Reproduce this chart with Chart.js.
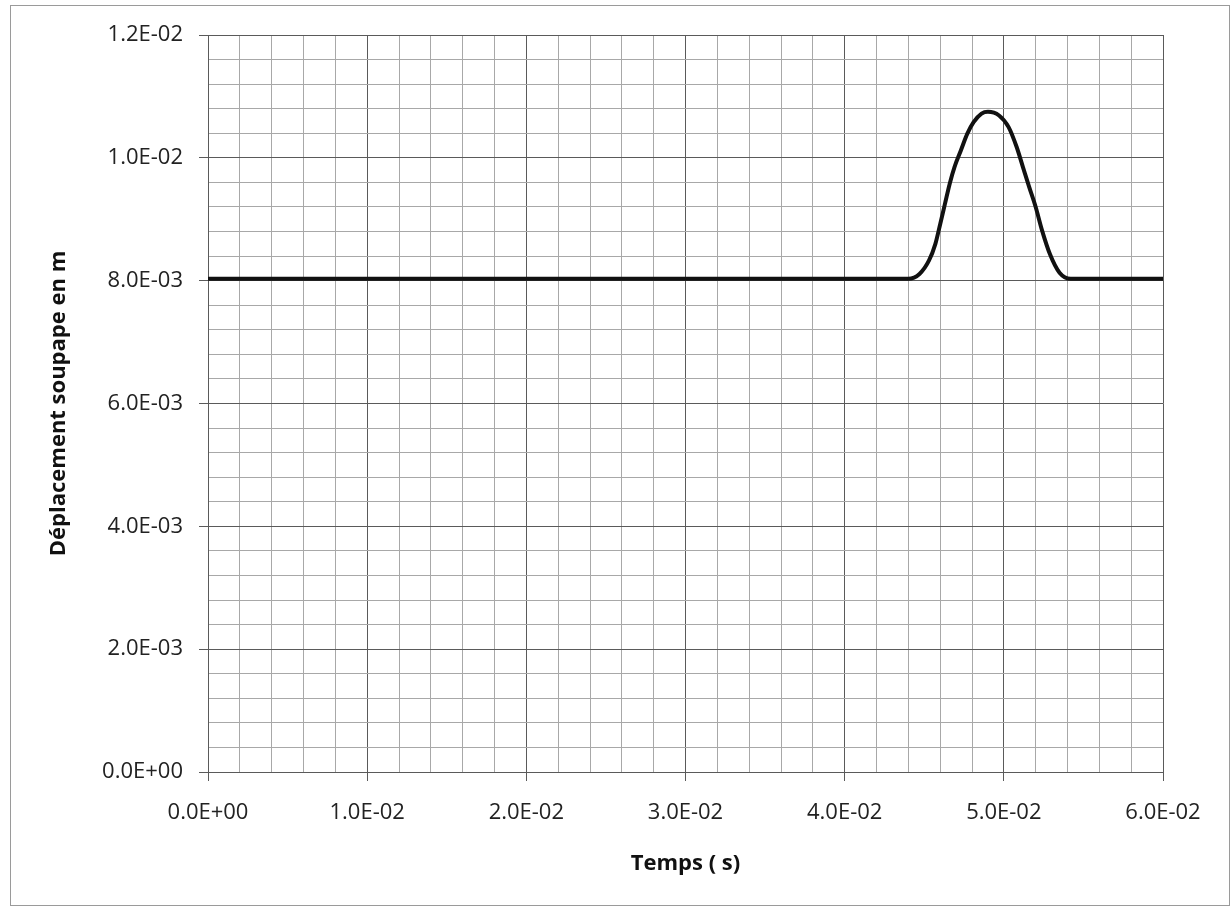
<!DOCTYPE html>
<html>
<head>
<meta charset="utf-8">
<script src="https://cdn.jsdelivr.net/npm/chart.js@4/dist/chart.umd.min.js"></script>
<style>
  html, body { margin: 0; padding: 0; background: #fff; }
  #wrap { position: relative; width: 1231px; height: 910px; }
</style>
</head>
<body>
<div id="wrap"><canvas id="c" width="1231" height="910"></canvas></div>
<script>
// ---- Data ----
const timeS = [0, 0.0440, 0.0447, 0.0453, 0.0457, 0.0460, 0.0463, 0.0466, 0.0469, 0.0473, 0.0477, 0.0481, 0.0486, 0.0490, 0.0497, 0.0503, 0.0508, 0.0512, 0.0516, 0.0520, 0.0524, 0.0529, 0.0535, 0.0542, 0.0600];
const displacementM = [0.00803, 0.00803, 0.00811, 0.00833, 0.00860, 0.00892, 0.00925, 0.00958, 0.00985, 0.01012, 0.01039, 0.01058, 0.01072, 0.01075, 0.01069, 0.01050, 0.01018, 0.00985, 0.00952, 0.00920, 0.00882, 0.00843, 0.00813, 0.00803, 0.00803];

const xMin = 0, xMax = 0.06, xStep = 0.002, xLabelStep = 0.01;
const yMin = 0, yMax = 0.012, yStep = 0.0004, yLabelStep = 0.002;
const xTitle = 'Temps ( s)';
const yTitle = 'Déplacement soupape en m';

function sci(v) {
  if (Math.abs(v) < 1e-12) return '0.0E+00';
  const e = Math.floor(Math.log10(Math.abs(v)) + 1e-9);
  const m = v / Math.pow(10, e);
  return m.toFixed(1) + 'E' + (e < 0 ? '-' : '+') + String(Math.abs(e)).padStart(2, '0');
}
function isMajor(v, step) {
  const r = v / step;
  return Math.abs(r - Math.round(r)) < 1e-6;
}

const points = timeS.map((t, i) => ({ x: t, y: displacementM[i] }));

const framePlugin = {
  id: 'frame',
  afterDraw(chart) {
    const c = chart.ctx;
    c.save();
    c.strokeStyle = '#9a9a9a';
    c.lineWidth = 1;
    c.strokeRect(10.5, 5.5, 1219, 900);
    c.restore();
  }
};

const tickFont = { family: '"Open Sans", "Liberation Sans", sans-serif', size: 22 };
const titleFont = { family: '"Open Sans", "Liberation Sans", sans-serif', size: 22, weight: 'bold' };

new Chart(document.getElementById('c'), {
  type: 'scatter',
  data: {
    datasets: [{
      data: points,
      showLine: true,
      borderColor: '#111',
      borderWidth: 4,
      pointRadius: 0,
      cubicInterpolationMode: 'monotone',
      fill: false
    }]
  },
  options: {
    responsive: false,
    animation: false,
    layout: { padding: { left: 0, top: 35, right: 68, bottom: 0 } },
    plugins: { legend: { display: false }, tooltip: { enabled: false } },
    scales: {
      x: {
        type: 'linear',
        min: xMin, max: xMax,
        afterFit(scale) { scale.height = 138; },
        ticks: {
          stepSize: xStep,
          maxTicksLimit: 100,
          autoSkip: false,
          maxRotation: 0,
          padding: 19,
          color: '#222',
          font: tickFont,
          callback: v => isMajor(v, xLabelStep) ? sci(v) : ''
        },
        grid: {
          color: ctx => isMajor(ctx.tick.value, xLabelStep) ? '#5a5a5a' : '#a8a8a8',
          tickColor: ctx => isMajor(ctx.tick.value, xLabelStep) ? '#5a5a5a' : 'rgba(0,0,0,0)',
          tickLength: 9,
          lineWidth: 1
        },
        border: { display: true, color: '#5a5a5a' },
        title: {
          display: true, text: xTitle, color: '#111', font: titleFont,
          padding: { top: 0, bottom: 33 }
        }
      },
      y: {
        type: 'linear',
        min: yMin, max: yMax,
        afterFit(scale) { scale.width = 208; },
        ticks: {
          stepSize: yStep,
          maxTicksLimit: 100,
          autoSkip: false,
          padding: 16,
          color: '#222',
          font: tickFont,
          callback: v => isMajor(v, yLabelStep) ? sci(v) : ''
        },
        grid: {
          color: ctx => isMajor(ctx.tick.value, yLabelStep) ? '#5a5a5a' : '#a8a8a8',
          tickColor: ctx => isMajor(ctx.tick.value, yLabelStep) ? '#5a5a5a' : 'rgba(0,0,0,0)',
          tickLength: 9,
          lineWidth: 1
        },
        border: { display: true, color: '#5a5a5a' },
        title: {
          display: true, text: yTitle, color: '#111', font: titleFont,
          padding: { top: 46, bottom: 0 }
        }
      }
    }
  },
  plugins: [framePlugin]
});
</script>
</body>
</html>
